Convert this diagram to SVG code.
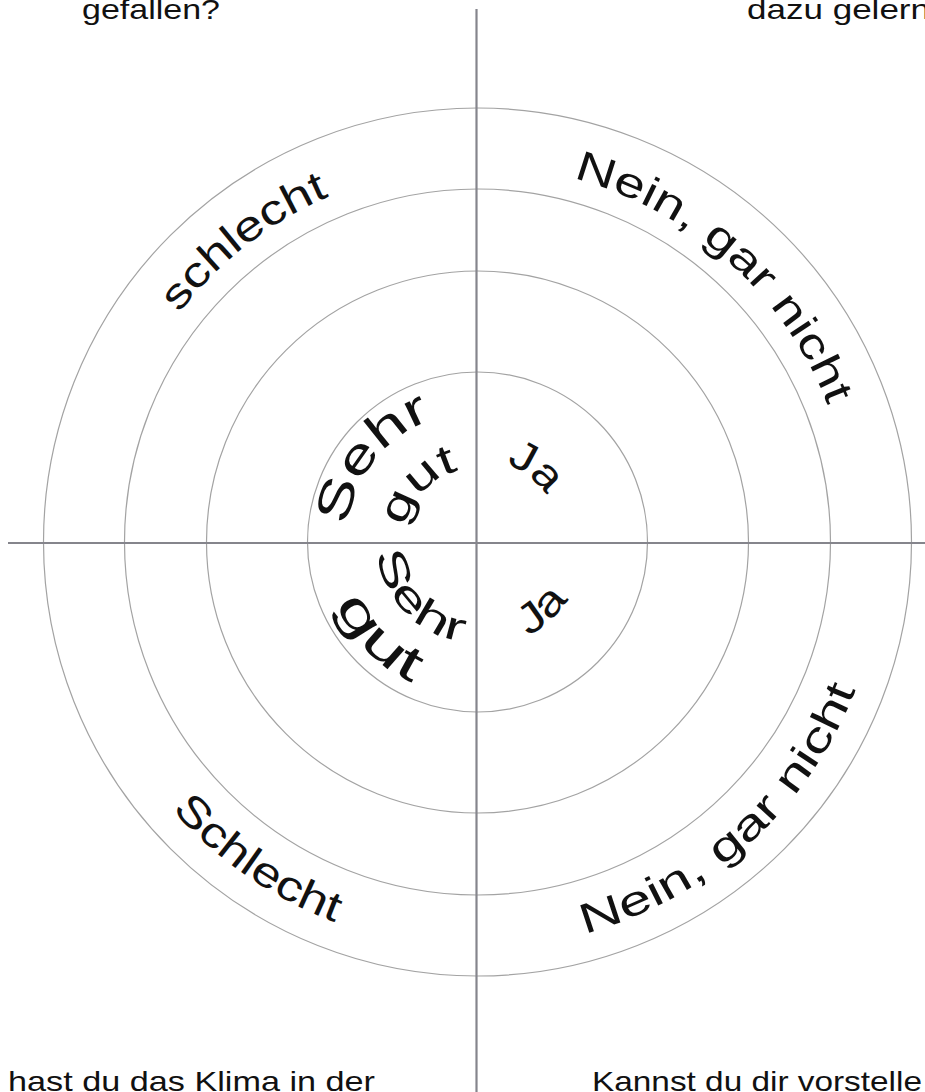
<svg xmlns="http://www.w3.org/2000/svg" xmlns:xlink="http://www.w3.org/1999/xlink" width="925" height="1092" viewBox="0 0 925 1092">
<style>
.ring{fill:none;stroke:#a3a3a3;stroke-width:1.2}
.axis{stroke:#85858c;stroke-width:2.2}
.t{font-family:"Liberation Sans",Arial,sans-serif;fill:#111}
.q{font-size:28px}
.o{font-size:42px}
</style>
<defs>
<path id="cw376" d="M101.5,542 A376,376 0 1 1 853.5,542 A376,376 0 1 1 101.5,542"/>
<path id="ccw406" d="M71.5,542 A406,406 0 1 0 883.5,542 A406,406 0 1 0 71.5,542"/>
<path id="cw131" d="M346.5,542 A131,131 0 1 1 608.5,542 A131,131 0 1 1 346.5,542"/>
<path id="cw74" d="M403.5,542 A74,74 0 1 1 551.5,542 A74,74 0 1 1 403.5,542"/>
<path id="ccw101" d="M376.5,542 A101,101 0 1 0 578.5,542 A101,101 0 1 0 376.5,542"/>
<path id="ccw155" d="M322.5,542 A155,155 0 1 0 632.5,542 A155,155 0 1 0 322.5,542"/>
<path id="cw83" d="M394.5,542 A83,83 0 1 1 560.5,542 A83,83 0 1 1 394.5,542"/>
<path id="ccw107" d="M370.5,542 A107,107 0 1 0 584.5,542 A107,107 0 1 0 370.5,542"/>
</defs>
<rect width="925" height="1092" fill="#fff"/>
<g id="rings">
<circle class="ring" cx="477.5" cy="542" r="434"/>
<circle class="ring" cx="477.5" cy="542" r="353"/>
<circle class="ring" cx="477.5" cy="542" r="271"/>
<circle class="ring" cx="477.5" cy="542" r="170"/>
</g>
<g id="connectors">
<line class="axis" x1="476.5" y1="9" x2="476.5" y2="1092"/>
<line class="axis" x1="8" y1="543" x2="925" y2="543"/>
</g>
<g id="questions">
<text class="t q" x="82" y="19" textLength="138" lengthAdjust="spacingAndGlyphs">gefallen?</text>
<text class="t q" x="747" y="19" textLength="183" lengthAdjust="spacingAndGlyphs">dazu gelern</text>
<text class="t q" x="8" y="1091" textLength="367" lengthAdjust="spacingAndGlyphs">hast du das Klima in der</text>
<text class="t q" x="592" y="1091" textLength="330" lengthAdjust="spacingAndGlyphs">Kannst du dir vorstelle</text>
</g>
<g id="label-ul-outer"><text class="t o"><textPath xlink:href="#cw376" href="#cw376" startOffset="246" textLength="192" lengthAdjust="spacingAndGlyphs">schlecht</textPath></text></g>
<g id="label-ur-outer"><text class="t o"><textPath xlink:href="#cw376" href="#cw376" startOffset="687" textLength="354" lengthAdjust="spacingAndGlyphs">Nein, gar nicht</textPath></text></g>
<g id="label-ll-outer"><text class="t o"><textPath xlink:href="#ccw406" href="#ccw406" startOffset="292" textLength="200" lengthAdjust="spacingAndGlyphs">Schlecht</textPath></text></g>
<g id="label-lr-outer"><text class="t o"><textPath xlink:href="#ccw406" href="#ccw406" startOffset="746" textLength="378" lengthAdjust="spacingAndGlyphs">Nein, gar nicht</textPath></text></g>
<g id="label-ul-inner">
<text class="t" font-size="48"><textPath xlink:href="#cw131" href="#cw131" startOffset="16" textLength="143" lengthAdjust="spacingAndGlyphs">Sehr</textPath></text>
<text class="t" font-size="42"><textPath xlink:href="#cw74" href="#cw74" startOffset="15" textLength="82" lengthAdjust="spacingAndGlyphs">gut</textPath></text>
</g>
<g id="label-ll-inner">
<text class="t" font-size="40"><textPath xlink:href="#ccw101" href="#ccw101" startOffset="11" textLength="132" lengthAdjust="spacingAndGlyphs">Sehr</textPath></text>
<text class="t" font-size="49"><textPath xlink:href="#ccw155" href="#ccw155" startOffset="64" textLength="112" lengthAdjust="spacingAndGlyphs">gut</textPath></text>
</g>
<g id="label-ur-inner"><text class="t" font-size="42"><textPath xlink:href="#cw83" href="#cw83" startOffset="159" textLength="52" lengthAdjust="spacingAndGlyphs">Ja</textPath></text></g>
<g id="label-lr-inner"><text class="t" font-size="42"><textPath xlink:href="#ccw107" href="#ccw107" startOffset="221" textLength="55" lengthAdjust="spacingAndGlyphs">Ja</textPath></text></g>
</svg>
